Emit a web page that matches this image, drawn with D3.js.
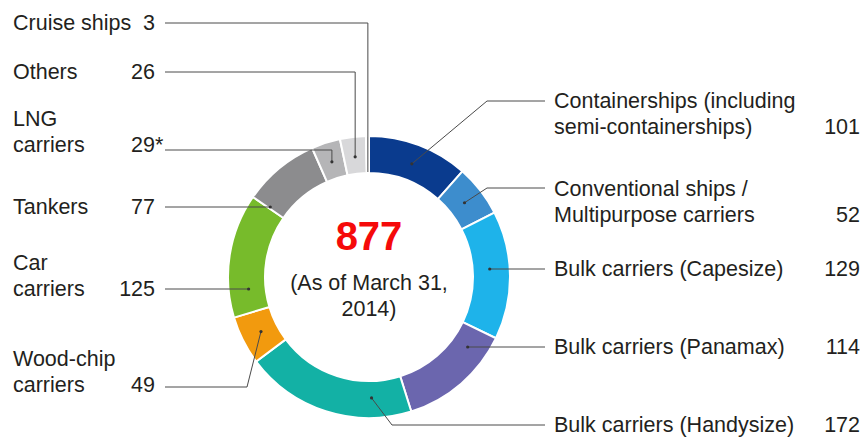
<!DOCTYPE html>
<html lang="en">
<head>
    <meta charset="UTF-8">
    <title>Fleet composition donut</title>
<script src="https://d3js.org/d3.v7.min.js"></script>
    <style>
        body{
            margin: 0;
            background: #fff;
            font-family: "Liberation Sans", Arial, sans-serif;
        }
        .lbl{
            font-size: 21.5px;
            fill: #231f20;
        }
        .leader{
            fill: none;
            stroke: #4a4a4a;
            stroke-width: 1;
        }
    </style>
</head>
<body>
<svg width="867" height="439" id="canvas"></svg>
<script>

    // chart data (clockwise from 12 o'clock)
    const categories = ["Containerships", "Conventional ships", "Capesize", "Panamax", "Handysize",
        "Wood-chip carriers", "Car carriers", "Tankers", "LNG carriers", "Others", "Cruise ships"];
    const shipCounts = [101, 52, 129, 114, 172, 49, 125, 77, 29, 26, 3];
    const sliceColors = ["#0a3b8e", "#3d8dcd", "#1eb3ea", "#6b66ae", "#13b1a5",
        "#f29a0e", "#77bb2b", "#8c8c8e", "#b5b5b7", "#d8d8da", "#ececec"];
    const labelLines = [
        ["Containerships (including", "semi-containerships)"],
        ["Conventional ships /", "Multipurpose carriers"],
        ["Bulk carriers (Capesize)"],
        ["Bulk carriers (Panamax)"],
        ["Bulk carriers (Handysize)"],
        ["Wood-chip", "carriers"],
        ["Car", "carriers"],
        ["Tankers"],
        ["LNG", "carriers"],
        ["Others"],
        ["Cruise ships"]
    ];
    const numberLabels = ["101", "52", "129", "114", "172", "49", "125", "77", "29", "26", "3"];
    const footMark = [false, false, false, false, false, false, false, false, true, false, false];
    const totalLabel = "877";
    const dateLines = ["(As of March 31,", "2014)"];

    // layout of the labels and leader lines
    const cx = 369, cy = 277;
    const outerR = 141, innerR = 104, dotR = 121;
    // side, first baseline, leader y, leader kind, elbow x, position in slice, dot radius
    const layout = [
        {side: "r", base: 108, ly: 101, kind: "elbow", ex: 487, t: 0.5},
        {side: "r", base: 196, ly: 188, kind: "elbow", ex: 487, t: 0.5},
        {side: "r", base: 276, ly: 269, kind: "h"},
        {side: "r", base: 354, ly: 347, kind: "h"},
        {side: "r", base: 432, ly: 425, kind: "elbow", ex: 392, t: 0.23},
        {side: "l", base: 366, ly: 387, kind: "elbow", ex: 247, t: 0.5},
        {side: "l", base: 270, ly: 289, kind: "h"},
        {side: "l", base: 214, ly: 207, kind: "h"},
        {side: "l", base: 126, ly: 150, kind: "v", t: 0.5},
        {side: "l", base: 79, ly: 72, kind: "v", t: 0.5},
        {side: "l", base: 30, ly: 23, kind: "v", t: 0.5, r: 105, noDot: true}
    ];
    const lineGap = 25.5;

    let svg = d3.select("svg");

    let rows = categories.map(function (c, i) {
        return {name: c, value: shipCounts[i], color: sliceColors[i], lines: labelLines[i],
            num: numberLabels[i], star: footMark[i], lay: layout[i]};
    });

    let pie = d3.pie().sort(null).value(function (d) { return d.value; });
    let arcs = pie(rows);
    let arc = d3.arc().innerRadius(innerR).outerRadius(outerR);

    const donut = svg.append("g").attr("transform", `translate(${cx},${cy})`);

    donut.selectAll("path")
        .data(arcs)
        .enter()
        .append("path")
        .attr("d", arc)
        .attr("fill", function (d) { return d.data.color; })
        .attr("stroke", "#fff")
        .attr("stroke-width", 2);

    // point on the ring at angle a (radians, clockwise from top)
    function ringPoint(a, r) {
        return [cx + r * Math.sin(a), cy - r * Math.cos(a)];
    }

    const leaders = svg.append("g");
    const labels = svg.append("g");

    arcs.forEach(function (d) {
        let L = d.data.lay;
        let startX = L.side === "r" ? 545 : 165;
        let r = L.r || dotR;
        let pts, dot;
        if (L.kind === "h") {
            let dy = L.ly - cy;
            let dx = Math.sqrt(r * r - dy * dy);
            dot = [L.side === "r" ? cx + dx : cx - dx, L.ly];
            pts = [[startX, L.ly], dot];
        } else if (L.kind === "elbow") {
            let a = d.startAngle + (d.endAngle - d.startAngle) * L.t;
            dot = ringPoint(a, r);
            pts = [[startX, L.ly], [L.ex, L.ly], dot];
        } else {
            let a = d.startAngle + (d.endAngle - d.startAngle) * L.t;
            dot = ringPoint(a, r);
            pts = [[startX, L.ly], [dot[0], L.ly], dot];
        }
        leaders.append("path")
            .attr("class", "leader")
            .attr("d", d3.line()(pts));
        if (!L.noDot) {
            leaders.append("circle")
                .attr("cx", dot[0]).attr("cy", dot[1]).attr("r", 1.6)
                .attr("fill", "#333");
        }

        // name lines
        let nameX = L.side === "r" ? 554 : 13;
        d.data.lines.forEach(function (s, k) {
            labels.append("text")
                .attr("class", "lbl")
                .attr("x", nameX)
                .attr("y", L.base + k * lineGap)
                .text(s);
        });
        let lastBase = L.base + (d.data.lines.length - 1) * lineGap;
        let numX = L.side === "r" ? 860 : 155;
        labels.append("text")
            .attr("class", "lbl")
            .attr("x", numX)
            .attr("y", lastBase)
            .attr("text-anchor", "end")
            .text(d.data.num);
        if (d.data.star) {
            labels.append("text")
                .attr("class", "lbl")
                .attr("x", numX)
                .attr("y", lastBase)
                .text("*");
        }
    });

    // centre text
    svg.append("text")
        .attr("x", cx).attr("y", 250)
        .attr("text-anchor", "middle")
        .attr("font-size", 40)
        .attr("font-weight", "bold")
        .attr("fill", "#f50a0a")
        .text(totalLabel);
    dateLines.forEach(function (s, k) {
        svg.append("text")
            .attr("class", "lbl")
            .attr("x", cx).attr("y", 290 + k * 26)
            .attr("text-anchor", "middle")
            .text(s);
    });

</script>
</body>
</html>
